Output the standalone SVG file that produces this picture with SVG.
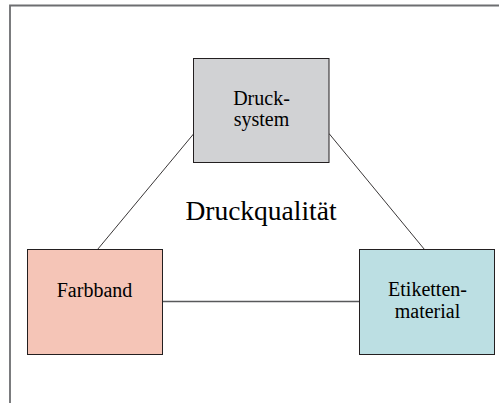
<svg xmlns="http://www.w3.org/2000/svg" width="499" height="403" viewBox="0 0 499 403">
<style>
.frame{fill:none;stroke:#6d6e71;stroke-width:1.8}
.box{stroke:#231f20;stroke-width:1}
.conn{stroke:#231f20;stroke-width:0.9;fill:none}
.hconn{stroke:#58595b;stroke-width:1.3;fill:none}
.lbl{font-family:"Liberation Serif","Times New Roman",serif;font-size:20px;fill:#000;text-anchor:middle}
.title{font-family:"Liberation Serif","Times New Roman",serif;font-size:27.5px;fill:#000;text-anchor:middle}
</style>
<rect width="499" height="403" fill="#fff"/>
<path class="frame" d="M10,403 V5.5 H499"/>
<g id="connectors">
<line class="conn" x1="193.5" y1="134" x2="97.5" y2="249.5"/>
<line class="conn" x1="329" y1="133.5" x2="424.5" y2="249.5"/>
<line class="hconn" x1="162.5" y1="301.5" x2="359.5" y2="301.5"/>
</g>
<g id="druck-system">
<rect class="box" x="193.5" y="58.5" width="135.5" height="104" fill="#d1d2d4"/>
<text class="lbl" x="261.5" y="105">Druck-</text>
<text class="lbl" x="261.5" y="126">system</text>
</g>
<g id="farbband">
<rect class="box" x="27.5" y="249.5" width="135" height="105" fill="#f5c5b7"/>
<text class="lbl" x="94.5" y="296.5">Farbband</text>
</g>
<g id="etikettenmaterial">
<rect class="box" x="359.5" y="249.5" width="135" height="105" fill="#bcdfe3"/>
<text class="lbl" x="427.5" y="296">Etiketten-</text>
<text class="lbl" x="427.5" y="318">material</text>
</g>
<g id="druckqualitaet">
<text class="title" x="261" y="220">Druckqualität</text>
</g>
</svg>
